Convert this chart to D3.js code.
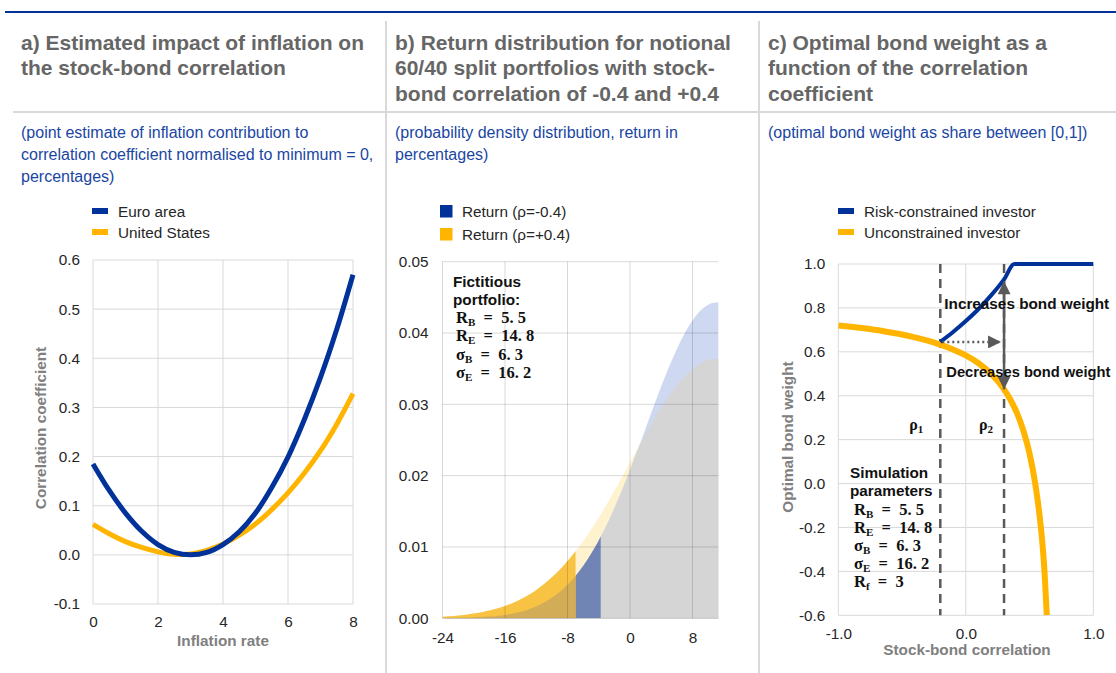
<!DOCTYPE html>
<html><head><meta charset="utf-8">
<script src="https://cdn.jsdelivr.net/npm/d3@7"></script>
<style>
body{margin:0;background:#fff;}
svg{display:block;font-family:"Liberation Sans",Arial,sans-serif;}
</style></head><body>
<svg id="c" width="1116" height="673"></svg>
<script>
// ---------- Panel a data ----------
const inflation = [0,0.5,1,1.5,2,2.5,3,3.5,4,4.5,5,5.5,6,6.5,7,7.5,8];
const euroArea = [0.185,0.131,0.085,0.048,0.021,0.005,0.0,0.005,0.021,0.047,0.085,0.137,0.199,0.275,0.361,0.459,0.57];
const unitedStates = [0.062,0.043,0.027,0.015,0.006,0.001,0.002,0.009,0.022,0.04,0.063,0.092,0.126,0.166,0.212,0.266,0.328];
const inflationTicks = [0,2,4,6,8];
const corrTicks = [-0.1,0,0.1,0.2,0.3,0.4,0.5,0.6];

// ---------- Panel b data ----------
const returns = [-24,-23,-22,-21,-20,-19,-18,-17,-16,-15,-14,-13,-12,-11,-10,-9,-8,-7,-6,-5,-4,-3,-2,-1,0,1,2,3,4,5,6,7,8,9,10,11,11.3];
const densityNeg = [0.00002,0.00003,0.00005,0.00008,0.00012,0.00017,0.00024,0.00034,0.00048,0.00067,0.00092,0.00125,0.00166,0.0022,0.00287,0.0037,0.0047,0.00591,0.00734,0.00901,0.01092,0.01306,0.01544,0.01802,0.02079,0.02368,0.02665,0.02962,0.03252,0.03526,0.03777,0.03997,0.04177,0.04312,0.04396,0.04428,0.04428];
const densityPos = [0.00022,0.00029,0.00039,0.00051,0.00066,0.00085,0.00108,0.00137,0.00173,0.00216,0.00267,0.00327,0.00398,0.0048,0.00574,0.00681,0.00802,0.00936,0.01082,0.01242,0.01414,0.01595,0.01787,0.01984,0.02184,0.02385,0.02581,0.02773,0.02954,0.03118,0.03268,0.03394,0.03497,0.03572,0.0362,0.03637,0.03637];
const tailNeg = -3.75;   // 5th percentile, rho=-0.4
const tailPos = -6.97;   // 5th percentile, rho=+0.4
const returnTicks = [-24,-16,-8,0,8];
const densityTicks = [0,0.01,0.02,0.03,0.04,0.05];

// ---------- Panel c data ----------
const rhoUnc = [-1,-0.9,-0.8,-0.7,-0.6,-0.5,-0.4,-0.3,-0.2,-0.1,0,0.1,0.2,0.3,0.35,0.4,0.45,0.5,0.55,0.575,0.6,0.615,0.635];
const weightUnc = [0.72,0.714,0.707,0.699,0.689,0.679,0.666,0.651,0.633,0.611,0.584,0.548,0.499,0.429,0.382,0.323,0.244,0.137,-0.02,-0.128,-0.267,-0.38,-0.6];
const rhoCon = [-0.2,-0.1,0,0.1,0.2,0.3,0.38,0.5,0.75,1.0];
const weightCon = [0.645,0.69,0.74,0.795,0.858,0.93,1.0,1.0,1.0,1.0];
const rho1 = -0.2, rho2 = 0.3;
const weightTicks = [-0.6,-0.4,-0.2,0,0.2,0.4,0.6,0.8,1.0];
const rhoTicks = [-1,0,1];

const BLUE = "#003299", YELLOW = "#ffb400", GRID = "#d9d9d9", TICK = "#262626", ATITLE = "#808080";
const FS = 15.3;
const svg = d3.select("#c");
const fmt = f => d => d3.format(f)(d).replace("\u2212","-");

// ---------- Frame ----------
svg.append("line").attr("x1",5).attr("x2",1116).attr("y1",12).attr("y2",12).attr("stroke",BLUE).attr("stroke-width",2);
svg.append("line").attr("x1",13).attr("x2",1116).attr("y1",112).attr("y2",112).attr("stroke",GRID).attr("stroke-width",2);
[386,759].forEach(x=>svg.append("line").attr("x1",x).attr("x2",x).attr("y1",21).attr("y2",673).attr("stroke",GRID).attr("stroke-width",2));

const titles = [
  {x:21, lines:["a) Estimated impact of inflation on","the stock-bond correlation"], sub:["(point estimate of inflation contribution to","correlation coefficient normalised to minimum = 0,","percentages)"]},
  {x:395, lines:["b) Return distribution for notional","60/40 split portfolios with stock-","bond correlation of -0.4 and +0.4"], sub:["(probability density distribution, return in","percentages)"]},
  {x:768, lines:["c) Optimal bond weight as a","function of the correlation","coefficient"], sub:["(optimal bond weight as share between [0,1])"]}
];
titles.forEach(t=>{
  t.lines.forEach((l,i)=>svg.append("text").attr("x",t.x).attr("y",49.5+i*25.5).attr("font-size",21).attr("font-weight","bold").attr("fill","#666666").text(l));
  t.sub.forEach((l,i)=>svg.append("text").attr("x",t.x).attr("y",137.5+i*22).attr("font-size",16).attr("fill","#1a46a3").text(l));
});

function styleAxisText(g){ g.select(".domain").remove(); g.selectAll("line").remove(); g.selectAll("text").attr("font-size",FS).attr("fill",TICK).attr("font-family","Liberation Sans, Arial, sans-serif"); }
function grid(g, x, y, xt, yt, w0, w1, h0, h1){
  const gg = g.append("g");
  gg.selectAll(".gx").data(xt).join("line").attr("x1",d=>x(d)).attr("x2",d=>x(d)).attr("y1",h0).attr("y2",h1).attr("stroke",GRID).attr("stroke-width",1);
  gg.selectAll(".gy").data(yt).join("line").attr("x1",w0).attr("x2",w1).attr("y1",d=>y(d)).attr("y2",d=>y(d)).attr("stroke",GRID).attr("stroke-width",1);
  return gg;
}
function legendLine(x,y,color,label){
  svg.append("rect").attr("x",x).attr("y",y-3).attr("width",16).attr("height",6).attr("fill",color);
  svg.append("text").attr("x",x+26).attr("y",y+5.5).attr("font-size",FS).attr("fill",TICK).text(label);
}
function mathLines(x, y0, dy, items){
  items.forEach((it,i)=>{
    const t = svg.append("text").attr("x",x).attr("y",y0+i*dy).attr("font-family","Liberation Serif, serif").attr("font-weight","bold").attr("font-size",16.5).attr("fill","#111");
    t.append("tspan").text(it[0]);
    t.append("tspan").attr("font-size",11).attr("dy",3).text(it[1]);
    t.append("tspan").attr("dy",-3).text("\u2002=\u2002" + it[2]);
  });
}
function boldText(x,y,s,fs){ svg.append("text").attr("x",x).attr("y",y).attr("font-size",fs||FS).attr("font-weight","bold").attr("fill","#111").text(s); }

// ---------- Panel a ----------
{
  const x = d3.scaleLinear().domain([0,8]).range([93,353]);
  const y = d3.scaleLinear().domain([-0.1,0.6]).range([604,260]);
  grid(svg, x, y, inflationTicks, corrTicks, 93, 353, 260, 604);
  svg.append("g").attr("transform","translate(93,0)").call(d3.axisLeft(y).tickValues(corrTicks).tickFormat(fmt(".1f")).tickSize(0).tickPadding(13)).call(styleAxisText);
  svg.append("g").attr("transform","translate(0,604)").call(d3.axisBottom(x).tickValues(inflationTicks).tickFormat(fmt("d")).tickSize(0).tickPadding(12)).call(styleAxisText);
  const line = d3.line().x(d=>x(d[0])).y(d=>y(d[1])).curve(d3.curveCatmullRom);
  svg.append("path").attr("d",line(d3.zip(inflation,unitedStates))).attr("fill","none").attr("stroke",YELLOW).attr("stroke-width",5);
  svg.append("path").attr("d",line(d3.zip(inflation,euroArea))).attr("fill","none").attr("stroke",BLUE).attr("stroke-width",5);
  svg.append("text").attr("x",223).attr("y",645.5).attr("text-anchor","middle").attr("font-size",FS).attr("font-weight","bold").attr("fill",ATITLE).text("Inflation rate");
  svg.append("text").attr("transform","translate(45.5,428) rotate(-90)").attr("text-anchor","middle").attr("font-size",FS).attr("font-weight","bold").attr("fill",ATITLE).text("Correlation coefficient");
  legendLine(92,211,BLUE,"Euro area");
  legendLine(92,232,YELLOW,"United States");
}

// ---------- Panel b ----------
{
  const x = d3.scaleLinear().domain([-24,11.3]).range([442.5,718.3]);
  const y = d3.scaleLinear().domain([0,0.05]).range([618.3,261.7]);
  const pts = returns.map((r,i)=>({r, n:densityNeg[i], p:densityPos[i], m:Math.min(densityNeg[i],densityPos[i])}));
  const area = key => d3.area().x(d=>x(d.r)).y0(y(0)).y1(d=>y(d[key])).curve(d3.curveMonotoneX)(pts);
  const defs = svg.append("defs");
  defs.append("clipPath").attr("id","tailN").append("rect").attr("x",x(-24)).attr("y",y(0.05)).attr("width",x(tailNeg)-x(-24)).attr("height",y(0)-y(0.05));
  defs.append("clipPath").attr("id","tailP").append("rect").attr("x",x(-24)).attr("y",y(0.05)).attr("width",x(tailPos)-x(-24)).attr("height",y(0)-y(0.05));
  const g = svg.append("g");
  g.append("path").attr("d",area("p")).attr("fill","#fff2cf");
  g.append("path").attr("d",area("n")).attr("fill","#cfd8f1");
  g.append("path").attr("d",area("m")).attr("fill","#d5d5d5");
  g.append("path").attr("d",area("m")).attr("fill","#7185b4").attr("clip-path","url(#tailN)");
  g.append("path").attr("d",area("p")).attr("fill","#f8c242").attr("clip-path","url(#tailP)");
  g.append("path").attr("d",area("m")).attr("fill","#d3ac58").attr("clip-path","url(#tailP)");
  const gg = svg.append("g").attr("stroke","#000").attr("stroke-opacity",0.15);
  gg.selectAll(".vx").data(returnTicks).join("line").attr("x1",d=>x(d)).attr("x2",d=>x(d)).attr("y1",y(0.05)).attr("y2",y(0));
  gg.selectAll(".hy").data(densityTicks).join("line").attr("x1",x(-24)).attr("x2",x(11.3)).attr("y1",d=>y(d)).attr("y2",d=>y(d));
  svg.append("g").attr("transform",`translate(${x(-24)},0)`).call(d3.axisLeft(y).tickValues(densityTicks).tickFormat(fmt(".2f")).tickSize(0).tickPadding(14)).call(styleAxisText);
  svg.append("g").attr("transform",`translate(0,${y(0)})`).call(d3.axisBottom(x).tickValues(returnTicks).tickFormat(fmt("d")).tickSize(0).tickPadding(14)).call(styleAxisText);
  svg.append("rect").attr("x",440).attr("y",205).attr("width",12.5).attr("height",12.5).attr("fill",BLUE);
  svg.append("text").attr("x",462).attr("y",216.5).attr("font-size",FS).attr("fill",TICK).text("Return (ρ=-0.4)");
  svg.append("rect").attr("x",440).attr("y",228).attr("width",12.5).attr("height",12.5).attr("fill",YELLOW);
  svg.append("text").attr("x",462).attr("y",239.5).attr("font-size",FS).attr("fill",TICK).text("Return (ρ=+0.4)");
  boldText(453,287,"Fictitious");
  boldText(453,304.5,"portfolio:");
  mathLines(456, 323, 18.3, [["R","B","5. 5"],["R","E","14. 8"],["σ","B","6. 3"],["σ","E","16. 2"]]);
}

// ---------- Panel c ----------
{
  const x = d3.scaleLinear().domain([-1,1]).range([838.3,1093.3]);
  const y = d3.scaleLinear().domain([-0.6,1.0]).range([615.3,264]);
  grid(svg, x, y, rhoTicks, weightTicks, 838.3, 1093.3, 264, 615.3);
  svg.append("g").attr("transform","translate(838.3,0)").call(d3.axisLeft(y).tickValues(weightTicks).tickFormat(fmt(".1f")).tickSize(0).tickPadding(13)).call(styleAxisText);
  svg.append("g").attr("transform","translate(0,615.3)").call(d3.axisBottom(x).tickValues(rhoTicks).tickFormat(fmt(".1f")).tickSize(0).tickPadding(13)).call(styleAxisText);
  svg.append("defs").append("clipPath").attr("id","plotC").append("rect").attr("x",838.3).attr("y",250).attr("width",280).attr("height",615.3-250);
  const line = d3.line().x(d=>x(d[0])).y(d=>y(d[1])).curve(d3.curveMonotoneX);
  [rho1,rho2].forEach(r=>svg.append("line").attr("x1",x(r)).attr("x2",x(r)).attr("y1",y(1.0)).attr("y2",y(-0.6)).attr("stroke","#595959").attr("stroke-width",2.5).attr("stroke-dasharray","9,6"));
  svg.append("path").attr("d",line(d3.zip(rhoUnc,weightUnc))).attr("fill","none").attr("stroke",YELLOW).attr("stroke-width",6).attr("clip-path","url(#plotC)");
  svg.append("path").attr("d",line(d3.zip(rhoCon,weightCon))).attr("fill","none").attr("stroke",BLUE).attr("stroke-width",4);
  const mk = svg.append("defs").append("marker").attr("id","ah").attr("viewBox","0 0 10 10").attr("refX",10).attr("refY",5)
    .attr("markerUnits","userSpaceOnUse").attr("markerWidth",14).attr("markerHeight",13).attr("orient","auto-start-reverse");
  mk.append("path").attr("d","M0,0L10,5L0,10Z").attr("fill","#595959");
  const wC2 = weightCon[rhoCon.indexOf(rho2)], wU2 = weightUnc[rhoUnc.indexOf(rho2)];
  const wStart = weightCon[0];
  svg.append("line").attr("x1",x(rho1)+2).attr("x2",x(rho2)-3).attr("y1",y(wStart)).attr("y2",y(wStart)).attr("stroke","#595959").attr("stroke-width",2.5).attr("stroke-dasharray","2,3").attr("marker-end","url(#ah)");
  svg.append("line").attr("x1",x(rho2)).attr("x2",x(rho2)).attr("y1",y(wC2)+2).attr("y2",y(wU2)).attr("stroke","#595959").attr("stroke-width",2.5).attr("marker-end","url(#ah)").attr("marker-start","url(#ah)");
  boldText(x(rho1)+4,309,"Increases bond weight");
  boldText(x(rho1)+6,376.5,"Decreases bond weight",14.7);
  [[rho1,"1",-24],[rho2,"2",-18]].forEach(([r,s,dx])=>{
    const t = svg.append("text").attr("x",x(r)+dx).attr("y",430).attr("text-anchor","middle").attr("font-family","Liberation Serif, serif").attr("font-weight","bold").attr("font-size",16).attr("fill","#111");
    t.append("tspan").text("ρ"); t.append("tspan").attr("font-size",11).attr("dy",3).text(s);
  });
  boldText(850,478,"Simulation");
  boldText(850,496,"parameters");
  mathLines(854, 514.5, 18, [["R","B","5. 5"],["R","E","14. 8"],["σ","B","6. 3"],["σ","E","16. 2"],["R","f","3"]]);
  svg.append("text").attr("x",967).attr("y",654.5).attr("text-anchor","middle").attr("font-size",FS).attr("font-weight","bold").attr("fill",ATITLE).text("Stock-bond correlation");
  svg.append("text").attr("transform","translate(792.5,437) rotate(-90)").attr("text-anchor","middle").attr("font-size",FS).attr("font-weight","bold").attr("fill",ATITLE).text("Optimal bond weight");
  legendLine(838,211,BLUE,"Risk-constrained investor");
  legendLine(838,232,YELLOW,"Unconstrained investor");
}
</script></body></html>
